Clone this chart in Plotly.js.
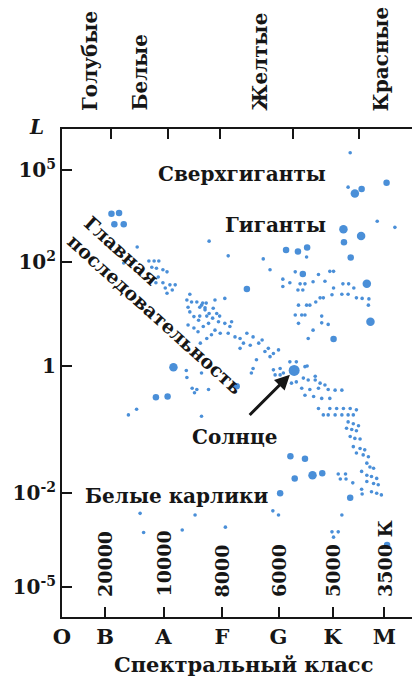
<!DOCTYPE html>
<html><head><meta charset="utf-8">
<script src="https://cdn.plot.ly/plotly-3.0.1.min.js"></script>
<style>html,body{margin:0;padding:0;background:#fff}#chart{width:412px;height:678px}</style>
</head><body><div id="chart"></div>
<script>
// ---------- categories / tick labels ----------
const classNames = ['O','B','A','F','G','K','M'];
const classIdx = [0,1,2,3,4,5,6];
const tempLabels = ['20000','10000','8000','6000','5000','3500 К'];
const tempClassIdx = [1,2,3,4,5,6];
const lumTickLog = [-5,-2,0,2,5];
const lumTickText = ['10<sup>-5</sup>','10<sup>-2</sup>','1','10<sup>2</sup>','10<sup>5</sup>'];
const colorGroups = ['Голубые','Белые','Желтые','Красные'];
const colorGroupClass = [0.65,1.60,3.67,5.95];
const colorBoundClass = [1.11,2.08,2.97,4.27,5.50];

// ---------- stars: spectral class index (O=0 ... M=6), log10 L ----------
const smallClass = [5.34,5.30,5.86,6.20,2.78,3.11,3.73,3.85,4.52,4.31,4.08,4.21,4.40,4.49,4.64,4.74,4.86,4.95,5.02,5.02,5.20,5.31,5.41,4.08,4.36,4.45,4.77,4.83,4.99,5.18,5.30,5.46,5.57,5.70,5.69,4.52,4.58,4.69,4.49,4.80,4.80,4.92,4.64,4.55,4.31,4.43,4.37,4.37,
 1.55,1.32,1.75,1.84,1.92,1.80,1.88,1.99,2.06,1.91,1.87,1.99,2.11,2.20,2.03,2.15,2.06,2.45,2.40,2.48,2.57,2.67,2.42,2.62,2.71,2.45,2.62,2.74,2.96,2.52,2.60,2.42,2.52,2.59,2.63,
 2.65,2.73,2.71,2.78,2.85,2.91,2.84,2.94,3.05,3.17,3.14,2.77,2.68,2.88,2.82,2.97,2.74,3.11,3.23,3.32,3.44,3.55,3.38,3.32,3.50,3.65,3.71,3.76,3.82,3.91,4.00,3.85,3.61,3.55,3.52,3.05,2.88,
 2.39,2.40,2.49,2.57,2.53,2.65,2.77,1.54,1.40,2.65,
 3.91,4.03,3.94,4.03,4.09,4.21,4.33,4.49,4.53,4.68,4.24,4.33,4.46,4.55,4.68,4.77,4.86,
 4.43,4.58,4.74,4.92,5.05,5.18,4.49,4.65,4.80,4.95,4.74,4.95,5.08,5.21,5.34,5.46,4.83,4.92,5.05,5.18,5.30,5.40,
 5.30,5.40,5.50,5.27,5.37,5.46,5.34,5.43,5.53,5.40,5.53,5.62,5.46,5.59,5.69,5.66,5.72,5.79,5.56,5.66,5.75,5.85,5.66,5.79,5.88,5.75,5.85,5.94,5.56,5.57,
 5.11,5.25,5.15,5.26,5.39,5.18,3.90,4.00,1.60,2.54,1.66,2.32,3.06,4.99,5.11,5.02];
const smallLogL = [5.56,4.44,3.33,3.13,2.68,2.20,2.10,1.85,2.16,1.81,1.67,1.60,1.58,1.58,1.62,1.76,1.63,1.82,1.82,1.50,1.58,1.58,1.50,1.53,1.46,1.46,1.31,1.31,1.37,1.38,1.38,1.31,1.30,1.29,1.17,1.17,1.17,1.23,0.98,0.96,0.83,0.80,0.69,0.53,0.98,0.98,1.17,0.82,
 2.49,1.98,2.03,2.03,2.03,1.90,1.88,1.85,1.81,1.71,1.60,1.60,1.56,1.56,1.50,1.46,1.40,1.38,1.27,1.23,1.23,1.21,1.13,1.13,1.12,1.04,0.96,0.96,0.96,0.95,0.88,0.79,0.73,0.66,0.44,
 1.17,1.21,1.08,1.01,1.11,1.01,0.92,0.85,0.82,0.85,0.76,0.82,0.76,0.69,0.60,0.63,0.53,0.63,0.56,0.53,0.63,0.56,0.44,0.34,0.40,0.44,0.50,0.28,0.34,0.24,0.31,0.18,0.12,-0.04,-0.11,1.30,1.27,
 -0.07,-0.18,-0.35,-0.37,-0.42,-0.11,-0.37,-0.68,-0.77,-0.79,
 -0.06,-0.04,-0.14,-0.14,-0.11,0.08,0.08,-0.01,0.00,-0.16,-0.27,-0.25,-0.19,-0.22,-0.22,-0.27,-0.30,
 -0.35,-0.37,-0.35,-0.37,-0.38,-0.38,-0.46,-0.48,-0.51,-0.51,-0.67,-0.67,-0.67,-0.67,-0.67,-0.69,-0.77,-0.77,-0.77,-0.77,-0.77,-0.77,
 -0.88,-0.91,-0.94,-0.98,-1.00,-1.02,-1.11,-1.14,-1.15,-1.27,-1.30,-1.32,-1.37,-1.40,-1.43,-1.53,-1.59,-1.61,-1.66,-1.72,-1.74,-1.77,-1.82,-1.85,-1.87,-1.98,-2.01,-2.06,-1.94,-2.03,
 -1.70,-1.70,-1.78,-1.78,-1.84,-2.70,-2.57,-2.70,-2.65,-2.70,-3.26,-3.18,-3.09,-3.24,-3.24,-3.41];

const medClass = [1.11,1.24,1.16,1.32,3.44,4.14,4.36,4.53,4.45,5.22,5.35,5.56,6.04,5.02,1.87,2.07,3.26,4.22,4.49,4.30,4.81,4.03,5.34,6.05];
const medLogL  = [3.57,3.60,3.23,3.23,1.48,2.39,2.34,2.47,1.77,2.64,2.15,4.38,4.58,0.52,-0.49,-0.48,-0.32,-1.42,-1.46,-1.77,-1.69,-2.01,-2.15,-3.66];

const bigClass = [5.21,5.55,5.43,5.66,5.73,2.17,4.63];
const bigLogL  = [3.07,2.85,4.23,1.58,0.85,-0.02,-1.72];

const sunClass = [4.29];
const sunLogL  = [-0.07];

// ---------- schematic (non-uniform) axis scales of the original drawing ----------
const X_WARP_IN  = [0,1,2,3,4,5,6];
const X_WARP_OUT = [0,0.1229,0.29,0.4571,0.6186,0.7729,0.9214];
const Y_WARP_IN  = [-5,-2,0,2,5];
const Y_WARP_OUT = [0.0615,0.2541,0.5143,0.7275,0.916];
function interp(v, xs, ys){
  let i = 0;
  if (v <= xs[0]) i = 0;
  else if (v >= xs[xs.length-1]) i = xs.length-2;
  else { while (v > xs[i+1]) i++; }
  const t = (v - xs[i])/(xs[i+1]-xs[i]);
  return ys[i] + t*(ys[i+1]-ys[i]);
}
const wx = v => interp(v, X_WARP_IN, X_WARP_OUT);
const wy = v => interp(v, Y_WARP_IN, Y_WARP_OUT);

const STAR = '#4a8fd8';
const INK = '#161616';
const FONT = 'DejaVu Serif';

function starTrace(xs, ys, size){
  return {type:'scatter', mode:'markers', x: xs.map(wx), y: ys.map(wy),
    marker:{color:STAR, size:size, line:{width:0}}, hoverinfo:'skip', xaxis:'x', yaxis:'y'};
}
const traces = [
  starTrace(smallClass, smallLogL, 3.6),
  starTrace(medClass, medLogL, 6.5),
  starTrace(bigClass, bigLogL, 8.5),
  starTrace(sunClass, sunLogL, 11),
  {type:'scatter', mode:'markers', x:[], y:[], xaxis:'x2', yaxis:'y', hoverinfo:'skip'}
];

// paper helpers for text placement
const px = p => (p-62)/350;
const py = p => (617-p)/488;

const ann = [];
function txt(text, x, y, size, extra){
  ann.push(Object.assign({text:text, x:x, y:y, xref:'paper', yref:'paper', showarrow:false,
    xanchor:'center', yanchor:'middle', font:{family:FONT, size:size, color:INK, weight:'bold'}}, extra||{}));
}
txt('Сверхгиганты', px(241.5), py(174), 20);
txt('Гиганты', px(275), py(225), 20);
txt('Солнце', px(235), py(437), 20);
txt('Белые карлики', px(176), py(496), 20);
txt('Главная<br>последовательность', px(164), py(305), 19, {textangle:42, align:'left'});
txt('<i>L</i>', px(36), py(127), 20);
txt('Спектральный класс', px(243), py(664), 21);
colorGroups.forEach((g,i)=>{
  ann.push({text:g, x:wx(colorGroupClass[i]), y:py(113), xref:'x', yref:'paper', showarrow:false,
    textangle:-90, xanchor:'center', yanchor:'bottom', font:{family:FONT, size:20, color:INK, weight:'bold'}});
});
tempLabels.forEach((t,i)=>{
  ann.push({text:t, x:wx(tempClassIdx[i]), y:py(599), xref:'x', yref:'paper', showarrow:false,
    textangle:-90, xanchor:'center', yanchor:'bottom', font:{family:FONT, size:19, color:INK, weight:'bold'}});
});
// arrow to the Sun
ann.push({text:'', x:wx(sunClass[0]), y:wy(sunLogL[0]), xref:'x', yref:'y', showarrow:true,
  ax:-46, ay:46, arrowhead:2, arrowsize:1, arrowwidth:3, arrowcolor:INK, standoff:6});

const axisCommon = {showgrid:false, zeroline:false, showline:true, linewidth:2, linecolor:INK,
  ticks:'inside', ticklen:10, tickwidth:2, tickcolor:INK, range:[0,1], fixedrange:true};

const layout = {
  width:412, height:678,
  margin:{l:62, r:0, t:129, b:61, pad:0},
  paper_bgcolor:'#ffffff', plot_bgcolor:'#ffffff',
  showlegend:false,
  font:{family:FONT, color:INK},
  xaxis: Object.assign({}, axisCommon, {tickmode:'array', tickvals:classIdx.map(wx), ticktext:classNames,
    tickfont:{family:FONT, size:21, color:INK, weight:'bold'}}),
  xaxis2: Object.assign({}, axisCommon, {overlaying:'x', side:'top', anchor:'y', tickmode:'array',
    tickvals:colorBoundClass.map(wx), showticklabels:false}),
  yaxis: Object.assign({}, axisCommon, {tickmode:'array', tickvals:lumTickLog.map(wy), ticktext:lumTickText,
    tickfont:{family:FONT, size:20, color:INK, weight:'bold'}}),
  annotations: ann
};

Plotly.newPlot('chart', traces, layout, {staticPlot:true, displayModeBar:false});
</script>
</body></html>
